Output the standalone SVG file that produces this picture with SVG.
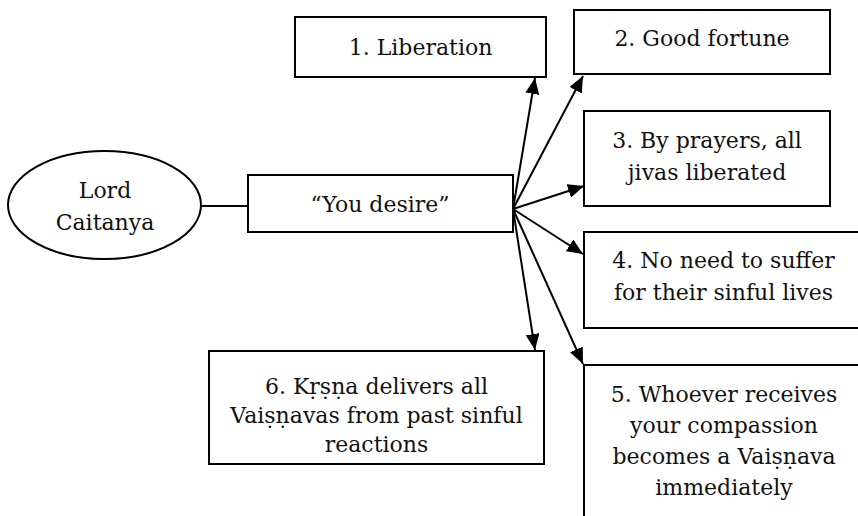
<svg xmlns="http://www.w3.org/2000/svg" width="858" height="516" viewBox="0 0 858 516">
<style>
.box{fill:#fff;stroke:#000;stroke-width:2}
text{font-family:'DejaVu Serif','Liberation Serif',serif;font-size:22px;fill:#111;text-anchor:middle}
.c{stroke:#000;stroke-width:2;fill:none}
</style>
<defs>
<marker id="ah" markerUnits="userSpaceOnUse" markerWidth="17" markerHeight="14" refX="16" refY="7" orient="auto">
<path d="M0,0 L16,7 L0,14 z" fill="#000"/>
</marker>
</defs>
<rect width="858" height="516" fill="#fff"/>
<g id="connectors">
<line class="c" x1="201" y1="206" x2="248" y2="206"/>
<line class="c" x1="513" y1="209" x2="535" y2="78" marker-end="url(#ah)"/>
<line class="c" x1="513" y1="209" x2="583" y2="76" marker-end="url(#ah)"/>
<line class="c" x1="513" y1="209" x2="584" y2="186" marker-end="url(#ah)"/>
<line class="c" x1="513" y1="209" x2="583" y2="254" marker-end="url(#ah)"/>
<line class="c" x1="513" y1="209" x2="535" y2="350" marker-end="url(#ah)"/>
<line class="c" x1="513" y1="209" x2="583" y2="364" marker-end="url(#ah)"/>
</g>
<g id="lord">
<ellipse class="box" cx="104.5" cy="205" rx="96.5" ry="54"/>
<text x="105" y="198">Lord</text>
<text x="105" y="230">Caitanya</text>
</g>
<g id="desire">
<rect class="box" x="248" y="175" width="265" height="57"/>
<text x="380" y="212">“You desire”</text>
</g>
<g id="n1">
<rect class="box" x="295" y="17" width="251" height="60"/>
<text x="420.5" y="55">1. Liberation</text>
</g>
<g id="n2">
<rect class="box" x="574" y="10" width="256" height="64"/>
<text x="702" y="46">2. Good fortune</text>
</g>
<g id="n3">
<rect class="box" x="584" y="111" width="246" height="95"/>
<text x="707" y="148">3. By prayers, all</text>
<text x="707" y="180">jivas liberated</text>
</g>
<g id="n4">
<rect class="box" x="584" y="232" width="290" height="96"/>
<text x="723.5" y="268">4. No need to suffer</text>
<text x="723.5" y="300">for their sinful lives</text>
</g>
<g id="n5">
<rect class="box" x="584" y="365" width="290" height="200"/>
<text x="724" y="402">5. Whoever receives</text>
<text x="724" y="433">your compassion</text>
<text x="724" y="464">becomes a Vaiṣṇava</text>
<text x="724" y="495">immediately</text>
</g>
<g id="n6">
<rect class="box" x="209" y="351" width="335" height="113"/>
<text x="376.5" y="394">6. Kṛṣṇa delivers all</text>
<text x="376.5" y="423">Vaiṣṇavas from past sinful</text>
<text x="376.5" y="452">reactions</text>
</g>
</svg>
